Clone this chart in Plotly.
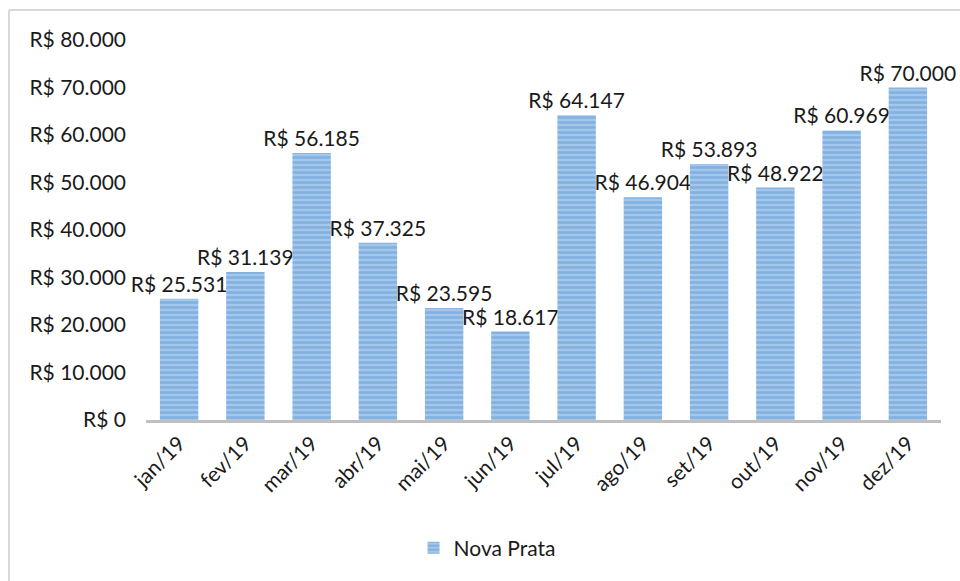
import plotly.graph_objects as go

months = ["jan/19", "fev/19", "mar/19", "abr/19", "mai/19", "jun/19",
          "jul/19", "ago/19", "set/19", "out/19", "nov/19", "dez/19"]
values = [25531, 31139, 56185, 37325, 23595, 18617,
          64147, 46904, 53893, 48922, 60969, 70000]
tick_vals = [0, 10000, 20000, 30000, 40000, 50000, 60000, 70000, 80000]


def brl(v):
    return "R$ " + f"{v:,}".replace(",", ".")


labels = [brl(v) for v in values]
tick_text = [brl(v) for v in tick_vals]

FONT = "Lato"
TXT = "#1a1a1a"
FS = 21

fig = go.Figure(go.Bar(
    x=months, y=values, name="Nova Prata",
    text=labels, textposition="outside", cliponaxis=False, constraintext="none",
    textfont=dict(family=FONT, size=FS, color=TXT),
    marker=dict(color="#A4C6EA", line=dict(width=0),
                pattern=dict(shape="-", fgcolor="#5B9BD5", size=5, solidity=0.5)),
))

fig.update_layout(
    width=960, height=581,
    margin=dict(l=146, r=19, t=40, b=161),
    paper_bgcolor="white", plot_bgcolor="white",
    bargap=0.42,
    font=dict(family=FONT, size=FS, color=TXT),
    showlegend=True,
    legend=dict(orientation="h", x=0.429, xanchor="center", y=-0.337, yanchor="middle",
                font=dict(family=FONT, size=FS, color=TXT)),
    xaxis=dict(showgrid=False, showline=True, linecolor="#BFBFBF", linewidth=3,
               tickangle=-45, ticks="", tickfont=dict(family=FONT, size=FS, color=TXT)),
    yaxis=dict(range=[0, 80000], tickvals=tick_vals, ticktext=tick_text,
               showgrid=False, showline=False, zeroline=False, ticks="",
               ticklabelstandoff=19,
               tickfont=dict(family=FONT, size=FS, color=TXT)),
    shapes=[
        dict(type="line", xref="paper", yref="paper",
             x0=-0.1723, x1=1.05, y0=1.0789, y1=1.0789,
             line=dict(color="#D9D9D9", width=2)),
        dict(type="line", xref="paper", yref="paper",
             x0=-0.1723, x1=-0.1723, y0=1.0789, y1=-0.45,
             line=dict(color="#D9D9D9", width=2)),
    ],
)

fig.write_html(
    "out.html",
    config={"displayModeBar": False},
    post_script="document.body.style.margin='0';document.body.style.overflow='hidden';",
)
